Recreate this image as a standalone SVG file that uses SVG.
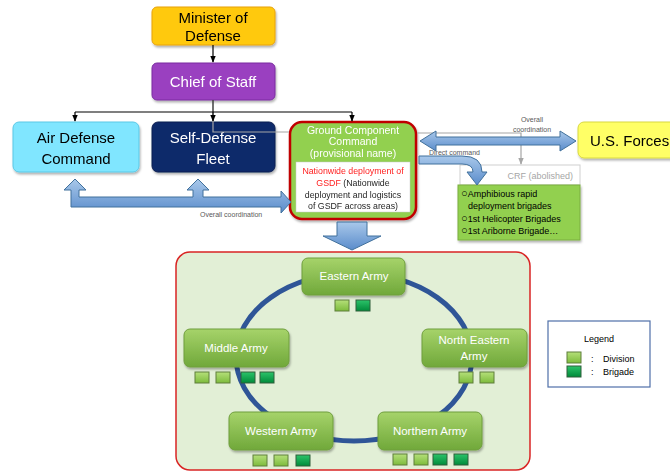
<svg xmlns="http://www.w3.org/2000/svg" width="670" height="474" viewBox="0 0 670 474">
<defs>
<linearGradient id="gArmy" x1="0" y1="0" x2="0" y2="1"><stop offset="0" stop-color="#A6D36A"/><stop offset="1" stop-color="#70A83A"/></linearGradient>
<linearGradient id="gBlue" x1="0" y1="0" x2="0" y2="1"><stop offset="0" stop-color="#A9C8EA"/><stop offset="1" stop-color="#5A8CCB"/></linearGradient>
<linearGradient id="gDiv" x1="0" y1="0" x2="0" y2="1"><stop offset="0" stop-color="#B5E07A"/><stop offset="1" stop-color="#7DBB3C"/></linearGradient>
<linearGradient id="gBri" x1="0" y1="0" x2="0" y2="1"><stop offset="0" stop-color="#2CC46A"/><stop offset="1" stop-color="#008A3A"/></linearGradient>
<filter id="sh" x="-10%" y="-10%" width="130%" height="140%"><feDropShadow dx="1" dy="2" stdDeviation="1.2" flood-color="#000" flood-opacity="0.3"/></filter>
<marker id="ah" viewBox="0 0 10 10" refX="9" refY="5" markerWidth="6" markerHeight="6" orient="auto"><path d="M0,1 L10,5 L0,9 Z" fill="#000"/></marker>
<marker id="ahg" viewBox="0 0 10 10" refX="9" refY="5" markerWidth="6" markerHeight="6" orient="auto"><path d="M0,1 L10,5 L0,9 Z" fill="#A6A6A6"/></marker>
<style>
text{font-family:"Liberation Sans",Arial,sans-serif}
.big{font-size:15px}
.army{fill:url(#gArmy);stroke:#6F9E3C;stroke-width:1}
.armyt{font-size:11.5px;fill:#fff;text-anchor:middle}
.div{fill:url(#gDiv);stroke:#5E7F3A;stroke-width:1}
.bri{fill:url(#gBri);stroke:#2E5E3A;stroke-width:1}
.barrow{fill:url(#gBlue);stroke:#41719C;stroke-width:1}
.small{font-size:7px;fill:#595959}
.o{font-size:11px}
</style>
</defs>

<g id="minister" filter="url(#sh)">
<rect x="152" y="7" width="123" height="38" rx="5" fill="#FFC90E" stroke="#E8A20A"/>
<text class="big" x="213" y="23" text-anchor="middle">Minister of</text>
<text class="big" x="213" y="41" text-anchor="middle">Defense</text>
</g>
<g id="chief" filter="url(#sh)">
<rect x="152" y="63" width="123" height="37" rx="5" fill="#9A3FC0" stroke="#7A2FA0"/>
<text class="big" x="213" y="87" text-anchor="middle" fill="#fff">Chief of Staff</text>
</g>
<g id="airdefense" filter="url(#sh)">
<rect x="13" y="122" width="126" height="50" rx="6" fill="#80E6FF" stroke="#5AC8E6"/>
<text class="big" x="76" y="143" text-anchor="middle">Air Defense</text>
<text class="big" x="76" y="164" text-anchor="middle">Command</text>
</g>
<g id="fleet" filter="url(#sh)">
<rect x="152" y="122" width="123" height="50" rx="6" fill="#0F2A6B" stroke="#0A1E50"/>
<text class="big" x="213" y="143" text-anchor="middle" fill="#fff">Self-Defense</text>
<text class="big" x="213" y="164" text-anchor="middle" fill="#fff">Fleet</text>
</g>
<g id="ground" filter="url(#sh)">
<rect x="290" y="122" width="126" height="97" rx="12" fill="#92D050" stroke="#C00000" stroke-width="2.5"/>
<text x="353" y="134" font-size="10.5" fill="#fff" text-anchor="middle">Ground Component</text>
<text x="353" y="145" font-size="10.5" fill="#fff" text-anchor="middle">Command</text>
<text x="353" y="157" font-size="10.5" fill="#fff" text-anchor="middle">(provisional name)</text>
<rect x="296" y="162" width="114" height="50" fill="#fff" stroke="#C8C8C8" stroke-width="0.5"/>
<text x="353" y="174" font-size="8.8" fill="#FF2020" text-anchor="middle">Nationwide deployment of</text>
<text x="353" y="186" font-size="8.8" text-anchor="middle"><tspan fill="#FF2020">GSDF</tspan><tspan fill="#262626"> (Nationwide</tspan></text>
<text x="353" y="198" font-size="8.8" fill="#262626" text-anchor="middle">deployment and logistics</text>
<text x="353" y="209" font-size="8.8" fill="#262626" text-anchor="middle">of GSDF across areas)</text>
</g>
<g id="usforces" filter="url(#sh)">
<rect x="578" y="122" width="100" height="36" rx="6" fill="#FFFF66" stroke="#D8D840"/>
<text class="big" x="590" y="146">U.S. Forces</text>
</g>
<g id="crf">
<rect x="460" y="165" width="120" height="20" fill="#fff" stroke="#D0D0D0"/>
<text x="573" y="179" font-size="9" fill="#A6A6A6" text-anchor="end">CRF (abolished)</text>
<rect x="458" y="185" width="122" height="55" fill="#92D050" stroke="#7AAE3E" filter="url(#sh)"/>
<text x="461" y="197" font-size="9" fill="#000"><tspan class="o">○</tspan>Amphibious rapid</text>
<text x="468" y="209" font-size="9" fill="#000">deployment brigades</text>
<text x="461" y="222" font-size="9" fill="#000"><tspan class="o">○</tspan>1st Helicopter Brigades</text>
<text x="461" y="234" font-size="9" fill="#000"><tspan class="o">○</tspan>1st Ariborne Brigade…</text>
</g>

<g id="panel">
<rect x="176" y="252" width="354" height="218" rx="14" fill="#E2EFD6" stroke="#D92424" stroke-width="1.5"/>
<ellipse cx="354" cy="357" rx="118" ry="84" fill="none" stroke="#2F5597" stroke-width="5"/>
</g>
<g id="eastern">
<rect class="army" x="302" y="258" width="103" height="37" rx="6" filter="url(#sh)"/>
<text class="armyt" x="354" y="280">Eastern Army</text>
<rect class="div" x="335" y="300" width="14" height="11"/>
<rect class="bri" x="356" y="300" width="14" height="11"/>
</g>
<g id="middle">
<rect class="army" x="184" y="329" width="105" height="38" rx="6" filter="url(#sh)"/>
<text class="armyt" x="236" y="352">Middle Army</text>
<rect class="div" x="195" y="372" width="14" height="11"/>
<rect class="div" x="216" y="372" width="14" height="11"/>
<rect class="bri" x="241" y="372" width="14" height="11"/>
<rect class="bri" x="260" y="372" width="14" height="11"/>
</g>
<g id="northeastern">
<rect class="army" x="422" y="329" width="105" height="38" rx="6" filter="url(#sh)"/>
<text class="armyt" x="474" y="344">North Eastern</text>
<text class="armyt" x="474" y="360">Army</text>
<rect class="div" x="459" y="372" width="14" height="11"/>
<rect class="div" x="480" y="372" width="14" height="11"/>
</g>
<g id="western">
<rect class="army" x="229" y="412" width="104" height="38" rx="6" filter="url(#sh)"/>
<text class="armyt" x="281" y="435">Western Army</text>
<rect class="div" x="253" y="455" width="14" height="11"/>
<rect class="div" x="274" y="455" width="14" height="11"/>
<rect class="bri" x="296" y="455" width="14" height="11"/>
</g>
<g id="northern">
<rect class="army" x="378" y="412" width="104" height="38" rx="6" filter="url(#sh)"/>
<text class="armyt" x="430" y="435">Northern Army</text>
<rect class="div" x="393" y="454" width="14" height="11"/>
<rect class="div" x="414" y="454" width="14" height="11"/>
<rect class="bri" x="433" y="454" width="14" height="11"/>
<rect class="bri" x="454" y="454" width="14" height="11"/>
</g>
<g id="legend">
<rect x="548" y="321" width="102" height="66" fill="#fff" stroke="#4F6FA8" stroke-width="1.2"/>
<text x="599" y="342" font-size="9" text-anchor="middle">Legend</text>
<rect class="div" x="567" y="352" width="14" height="11"/>
<rect class="bri" x="567" y="366" width="14" height="11"/>
<text x="591" y="362" font-size="9">:</text>
<text x="603" y="362" font-size="9">Division</text>
<text x="591" y="375" font-size="9">:</text>
<text x="603" y="375" font-size="9">Brigade</text>
</g>

<g id="connectors">
<path d="M213,45 V62" stroke="#000" stroke-width="1.2" fill="none" marker-end="url(#ah)"/>
<path d="M213,112 V132 H289" stroke="#A6A6A6" stroke-width="1.2" fill="none"/>
<path d="M417,133 H521 V164" stroke="#A6A6A6" stroke-width="1.2" fill="none" marker-end="url(#ahg)"/>
<path d="M213,100 V112" stroke="#404040" stroke-width="1.5" fill="none"/>
<path d="M75,112 H352" stroke="#000" stroke-width="1.2" fill="none"/>
<path d="M75,112 V121" stroke="#000" stroke-width="1.2" fill="none" marker-end="url(#ah)"/>
<path d="M213,112 V121" stroke="#000" stroke-width="1.2" fill="none" marker-end="url(#ah)"/>
<path d="M352,112 V121" stroke="#000" stroke-width="1.2" fill="none" marker-end="url(#ah)"/>
<path class="barrow" d="M71,207 L281,207 L281,213 L291,202 L281,191 L281,197 L203,197 L203,190 L209,190 L198,179 L187,190 L193,190 L193,197 L79,197 L79,190 L86,190 L75,179 L64,190 L71,190 Z"/>
<text class="small" x="200" y="217">Overall coordination</text>
<path class="barrow" d="M420,141 L436,131 L436,137 L560,137 L560,131 L576,141 L560,151 L560,145 L436,145 L436,151 Z"/>
<text class="small" x="532" y="122" text-anchor="middle">Overall</text>
<text class="small" x="532" y="132" text-anchor="middle">coordination</text>
<text class="small" x="429" y="155">Direct command</text>
<path class="barrow" d="M419,156 L462,156 Q482,156 482,172 L487,172 L477,185 L467,172 L473,172 Q473,164 462,164 L419,164 Z"/>
<path class="barrow" d="M337,222 L367,222 L367,236 L381,236 L352,250 L323,236 L337,236 Z"/>
</g>
</svg>
